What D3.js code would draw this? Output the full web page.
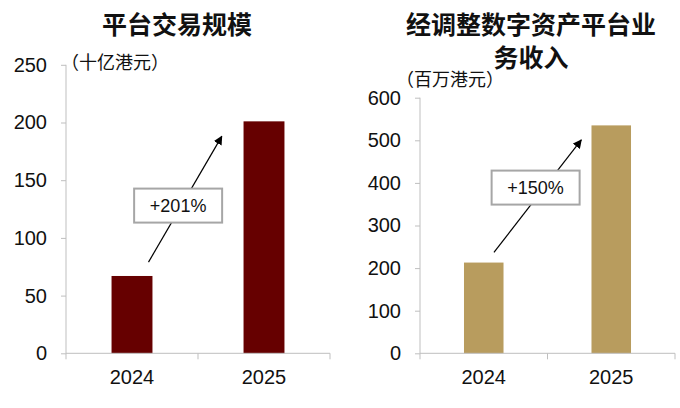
<!DOCTYPE html>
<html>
<head>
<meta charset="utf-8">
<script src="https://cdn.jsdelivr.net/npm/d3@7"></script>
<style>
  body { margin: 0; background: #fff; }
  svg { display: block; }
</style>
</head>
<body>
<svg id="chart"></svg>
<script>
  const W = 680, H = 408;

  // data
  const years = ["2024", "2025"];
  const volume = [67, 201];          // 平台交易规模, 十亿港元
  const revenue = [213, 535];        // 经调整数字资产平台业务收入, 百万港元
  const volumeTicks = [0, 50, 100, 150, 200, 250];
  const revenueTicks = [0, 100, 200, 300, 400, 500, 600];
  const growth = ["+201%", "+150%"];
  // annotation anchors in data units: [from value, to value, box value]
  const volumeNote = [79, 188, 128];
  const revenueNote = [237, 501, 389];

  const FONT = "Arial, 'Liberation Sans', 'Noto Sans CJK SC', sans-serif";
  const CJK = "'Noto Sans CJK SC', 'Noto Sans', sans-serif";

  const svg = d3.select("#chart").attr("width", W).attr("height", H);

  const defs = svg.append("defs");
  defs.append("marker")
    .attr("id", "head").attr("viewBox", "0 0 10 10")
    .attr("refX", 9).attr("refY", 5)
    .attr("markerWidth", 9).attr("markerHeight", 9)
    .attr("markerUnits", "userSpaceOnUse")
    .attr("orient", "auto")
    .append("path").attr("d", "M0,0L10,5L0,10Z").attr("fill", "#000");

  function panel(o) {
    const g = svg.append("g");
    const x = d3.scaleBand().domain(years).range([o.x0, o.x1]).paddingInner(0.69).paddingOuter(0.345);
    const y = d3.scaleLinear().domain([0, d3.max(o.ticks)]).range([o.y0, o.y1]);
    const step = x.step();
    const cx = d => x(d) + x.bandwidth() / 2;

    // titles
    o.title.forEach((t, i) => g.append("text")
      .attr("x", o.tx).attr("y", o.ty + i * 32.5)
      .attr("text-anchor", "middle").attr("dominant-baseline", "central")
      .attr("font-family", CJK).attr("font-weight", "bold").attr("font-size", 25)
      .attr("fill", "#111").text(t));

    g.append("text")
      .attr("x", o.ux).attr("y", o.uy)
      .attr("text-anchor", "middle").attr("dominant-baseline", "central")
      .attr("font-family", CJK).attr("font-size", 18).attr("fill", "#111")
      .text(o.unit);

    // y axis
    const ya = g.append("g").attr("transform", `translate(${o.x0},0)`)
      .call(d3.axisLeft(y).tickValues(o.ticks).tickSize(5).tickPadding(14));
    ya.select(".domain").attr("stroke", "#bfbfbf").attr("d", `M0,${o.y0}V${o.y1}`);
    ya.selectAll(".tick line").attr("stroke", "#bfbfbf");
    ya.selectAll(".tick text").attr("font-family", FONT).attr("font-size", 20).attr("fill", "#111");

    // bars
    g.selectAll("rect.bar").data(o.values).join("rect").attr("class", "bar")
      .attr("x", (d, i) => x(years[i])).attr("width", x.bandwidth())
      .attr("y", d => y(d)).attr("height", d => y(0) - y(d))
      .attr("fill", o.color);

    // x axis
    const xa = g.append("g").attr("transform", `translate(0,${o.y0})`);
    xa.append("line").attr("x1", o.x0).attr("x2", o.x1).attr("stroke", "#bfbfbf");
    xa.selectAll("line.tk").data(d3.range(years.length + 1)).join("line").attr("class", "tk")
      .attr("x1", i => o.x0 + i * step).attr("x2", i => o.x0 + i * step)
      .attr("y1", 0).attr("y2", 6).attr("stroke", "#bfbfbf");
    xa.selectAll("text").data(years).join("text")
      .attr("x", cx).attr("y", 31)
      .attr("text-anchor", "middle").attr("font-family", FONT).attr("font-size", 20).attr("fill", "#111")
      .text(d => d);

    // growth arrow + label box
    const [vFrom, vTo, vBox] = o.note;
    const x1 = cx(years[0]) + o.fromOff * step, x2 = cx(years[1]) - o.toOff * step;
    g.append("line")
      .attr("x1", x1).attr("y1", y(vFrom)).attr("x2", x2).attr("y2", y(vTo))
      .attr("stroke", "#000").attr("stroke-width", 1.2).attr("marker-end", "url(#head)");
    const bx = (x1 + x2) / 2 + o.boxOff, by = y(vBox);
    g.append("rect")
      .attr("x", bx - 44).attr("y", by - 17).attr("width", 88).attr("height", 34)
      .attr("fill", "#fff").attr("stroke", "#a6a6a6").attr("stroke-width", 2);
    g.append("text")
      .attr("x", bx).attr("y", by).attr("dominant-baseline", "central")
      .attr("text-anchor", "middle").attr("font-family", FONT).attr("font-size", 18).attr("fill", "#111")
      .text(o.label);
  }

  panel({
    x0: 66, x1: 330, y0: 353.3, y1: 64.8,
    ticks: volumeTicks, values: volume, color: "#660000",
    title: ["平台交易规模"], tx: 177, ty: 23,
    unit: "（十亿港元）", ux: 115, uy: 61,
    note: volumeNote, fromOff: 0.125, toOff: 0.32, boxOff: -7, label: growth[0]
  });

  panel({
    x0: 420, x1: 675, y0: 353.3, y1: 97.7,
    ticks: revenueTicks, values: revenue, color: "#b89c5e",
    title: ["经调整数字资产平台业", "务收入"], tx: 531, ty: 23.3,
    unit: "（百万港元）", ux: 450, uy: 78,
    note: revenueNote, fromOff: 0.08, toOff: 0.235, boxOff: -2, label: growth[1]
  });
</script>
</body>
</html>
